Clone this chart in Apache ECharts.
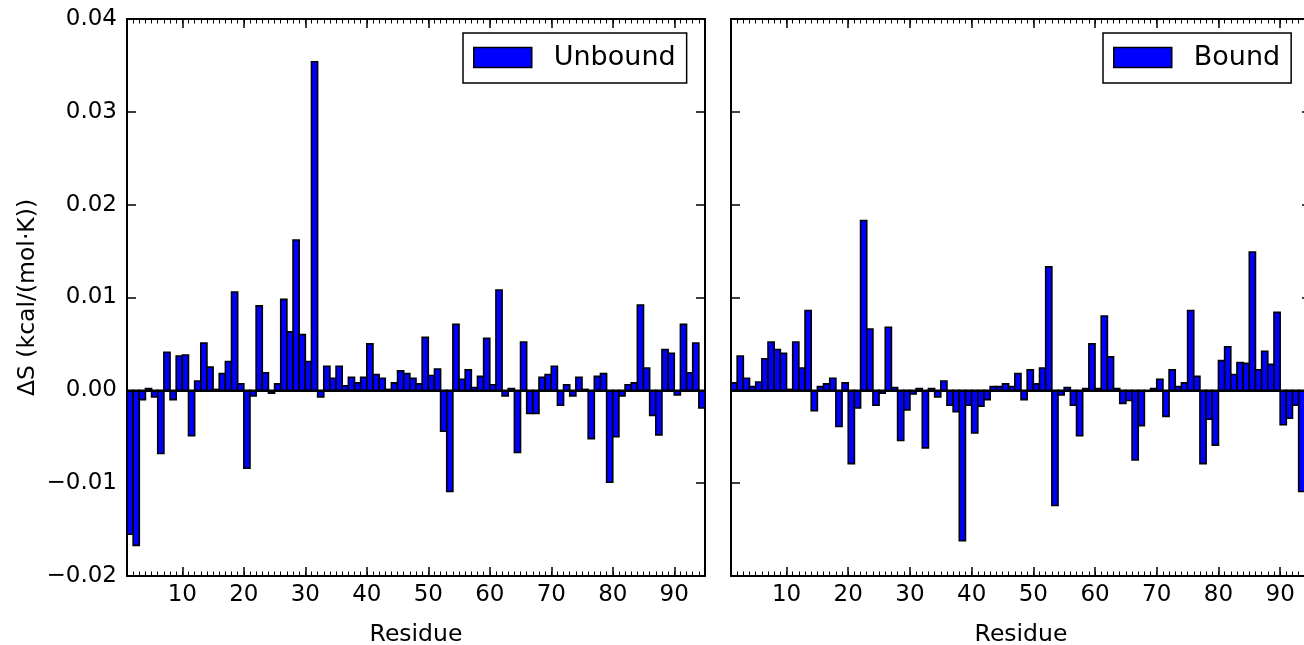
<!DOCTYPE html>
<html lang="en">
<head>
    <meta charset="UTF-8">
    <title>Entropy change per residue</title>
    <script src="https://cdn.jsdelivr.net/npm/echarts@6/dist/echarts.min.js"></script>
    <style>
        html, body { margin: 0; padding: 0; background: #fff; }
    </style>
</head>
<body>
<div id="main" style="width:1304px;height:645px;"></div>
<script>
    // per-residue values (residues 1..94)
    var unbound = [
        -0.0155, -0.0167, -0.0010, 0.0002, -0.0007, -0.0068, 0.0041, -0.0010, 0.0037, 0.0038,
        -0.0049, 0.0010, 0.0051, 0.0025, 0.0001, 0.0018, 0.0031, 0.0106, 0.0007, -0.0084,
        -0.0006, 0.0091, 0.0019, -0.0003, 0.0007, 0.0098, 0.0063, 0.0162, 0.0060, 0.0031,
        0.0354, -0.0007, 0.0026, 0.0013, 0.0026, 0.0005, 0.0014, 0.0008, 0.0014, 0.0050,
        0.0017, 0.0013, 0.0001, 0.0008, 0.0021, 0.0018, 0.0013, 0.0007, 0.0057, 0.0016,
        0.0023, -0.0044, -0.0109, 0.0071, 0.0012, 0.0022, 0.0003, 0.0015, 0.0056, 0.0006,
        0.0108, -0.0006, 0.0002, -0.0067, 0.0052, -0.0025, -0.0025, 0.0014, 0.0017, 0.0026,
        -0.0016, 0.0006, -0.0006, 0.0014, 0.0001, -0.0052, 0.0015, 0.0018, -0.0099, -0.0050,
        -0.0006, 0.0006, 0.0008, 0.0092, 0.0024, -0.0027, -0.0048, 0.0044, 0.0040, -0.0005,
        0.0071, 0.0019, 0.0051, -0.0019
    ];
    var bound = [
        0.0008, 0.0037, 0.0013, 0.0004, 0.0009, 0.0034, 0.0052, 0.0044, 0.0040, 0.0001,
        0.0052, 0.0024, 0.0086, -0.0022, 0.0004, 0.0007, 0.0013, -0.0039, 0.0008, -0.0079,
        -0.0019, 0.0183, 0.0066, -0.0016, -0.0003, 0.0068, 0.0003, -0.0054, -0.0021, -0.0004,
        0.0002, -0.0062, 0.0002, -0.0007, 0.0010, -0.0016, -0.0023, -0.0162, -0.0016, -0.0046,
        -0.0017, -0.0010, 0.0004, 0.0004, 0.0007, 0.0004, 0.0018, -0.0010, 0.0022, 0.0007,
        0.0024, 0.0133, -0.0124, -0.0005, 0.0003, -0.0016, -0.0049, 0.0002, 0.0050, 0.0002,
        0.0080, 0.0036, 0.0002, -0.0014, -0.0011, -0.0075, -0.0038, -0.0001, 0.0002, 0.0012,
        -0.0028, 0.0022, 0.0004, 0.0008, 0.0086, 0.0015, -0.0079, -0.0031, -0.0059, 0.0032,
        0.0047, 0.0017, 0.0030, 0.0029, 0.0149, 0.0022, 0.0042, 0.0028, 0.0084, -0.0037,
        -0.0030, -0.0016, -0.0109, -0.0012
    ];
    var xTicks = [10, 20, 30, 40, 50, 60, 70, 80, 90];

    var font = 'DejaVu Sans';
    var myChart = echarts.init(document.getElementById('main'));

    // bar i covers [i, i+1) like matplotlib's edge-aligned bars
    function renderBar(params, api) {
        var x = api.value(0);
        var v = api.value(1);
        var p0 = api.coord([x, 0]);
        var p1 = api.coord([x + 1, v]);
        return {
            type: 'rect',
            shape: {
                x: p0[0],
                y: Math.min(p0[1], p1[1]),
                width: p1[0] - p0[0],
                height: Math.abs(p1[1] - p0[1])
            },
            style: {fill: '#0000ff', stroke: '#000', lineWidth: 1.6}
        };
    }

    function toPairs(arr) {
        return arr.map(function (v, i) { return [i + 1, v]; });
    }

    function majorX(grid, pos, withLabels) {
        return {
            type: 'value', gridIndex: grid, position: pos, min: 1, max: 95,
            name: withLabels ? 'Residue' : '',
            nameLocation: 'middle', nameGap: 47,
            nameTextStyle: {fontFamily: font, fontSize: 23.5, color: '#000'},
            axisLine: {show: true, onZero: false, lineStyle: {color: '#000', width: 2}},
            axisTick: {show: true, inside: true, length: 9, customValues: xTicks,
                lineStyle: {color: '#000', width: 1.5}},
            axisLabel: {show: withLabels, customValues: xTicks, margin: 8,
                fontFamily: font, fontSize: 23, color: '#000'},
            splitLine: {show: false}
        };
    }

    // minor ticks live on their own overlapping grids so positions don't clash
    function minorX(grid, pos) {
        return {
            type: 'value', gridIndex: grid, position: pos, min: 1, max: 95, interval: 1,
            axisLine: {show: false, onZero: false},
            axisTick: {show: true, inside: true, length: 4.5, interval: 0,
                lineStyle: {color: '#000', width: 1}},
            axisLabel: {show: false},
            splitLine: {show: false}
        };
    }

    function yAx(grid, pos, withLabels) {
        return {
            type: 'value', gridIndex: grid, position: pos, min: -0.02, max: 0.04, interval: 0.01,
            name: withLabels ? '\u0394S (kcal/(mol\u00b7K))' : '',
            nameLocation: 'middle', nameGap: 87, nameRotate: 90,
            nameTextStyle: {fontFamily: font, fontSize: 23.5, color: '#000'},
            axisLine: {show: true, onZero: false, lineStyle: {color: '#000', width: 2}},
            axisTick: {show: true, inside: true, length: 9, lineStyle: {color: '#000', width: 1.5}},
            axisLabel: {show: withLabels, margin: 10, fontFamily: font, fontSize: 23, color: '#000',
                formatter: function (v) { return v.toFixed(2).replace('-', '\u2212'); }},
            splitLine: {show: false}
        };
    }

    function hiddenY(grid) {
        return {type: 'value', gridIndex: grid, min: -0.02, max: 0.04, show: false};
    }

    function makeGrid(left, width) {
        return {left: left, top: 19, width: width, height: 557,
            containLabel: false, outerBoundsMode: 'none'};
    }

    function legendBox(name, left) {
        return {
            data: [name], left: left, top: 33, orient: 'horizontal',
            backgroundColor: '#fff', borderColor: '#000', borderWidth: 1.5, borderRadius: 0,
            padding: [11, 11, 12, 10],
            icon: 'rect', itemWidth: 58, itemHeight: 20, itemGap: 0,
            itemStyle: {color: '#0000ff', borderColor: '#000', borderWidth: 1.5},
            textStyle: {fontFamily: font, fontSize: 27, lineHeight: 27, color: '#000',
                padding: [0, 0, 0, 17]},
            selectedMode: false
        };
    }

    var zeroLine = {
        silent: true, symbol: 'none',
        label: {show: false},
        lineStyle: {color: '#000', width: 2, type: 'solid'},
        data: [{yAxis: 0}]
    };

    var option = {
        backgroundColor: '#fff',
        animation: false,
        textStyle: {fontFamily: font},
        grid: [
            makeGrid(127, 578),
            makeGrid(731, 580),
            makeGrid(127, 578),
            makeGrid(731, 580)
        ],
        legend: [legendBox('Unbound', 463), legendBox('Bound', 1103)],
        xAxis: [
            majorX(0, 'bottom', true), majorX(0, 'top', false),
            majorX(1, 'bottom', true), majorX(1, 'top', false),
            minorX(2, 'bottom'), minorX(2, 'top'),
            minorX(3, 'bottom'), minorX(3, 'top')
        ],
        yAxis: [
            yAx(0, 'left', true), yAx(0, 'right', false),
            yAx(1, 'left', false), yAx(1, 'right', false),
            hiddenY(2), hiddenY(3)
        ],
        series: [
            {
                name: 'Unbound', type: 'custom', xAxisIndex: 0, yAxisIndex: 0,
                renderItem: renderBar, clip: true,
                itemStyle: {color: '#0000ff'},
                encode: {x: 0, y: 1},
                data: toPairs(unbound),
                markLine: zeroLine
            },
            {
                name: 'Bound', type: 'custom', xAxisIndex: 2, yAxisIndex: 2,
                renderItem: renderBar, clip: true,
                itemStyle: {color: '#0000ff'},
                encode: {x: 0, y: 1},
                data: toPairs(bound),
                markLine: zeroLine
            }
        ]
    };

    myChart.setOption(option);
</script>
</body>
</html>
